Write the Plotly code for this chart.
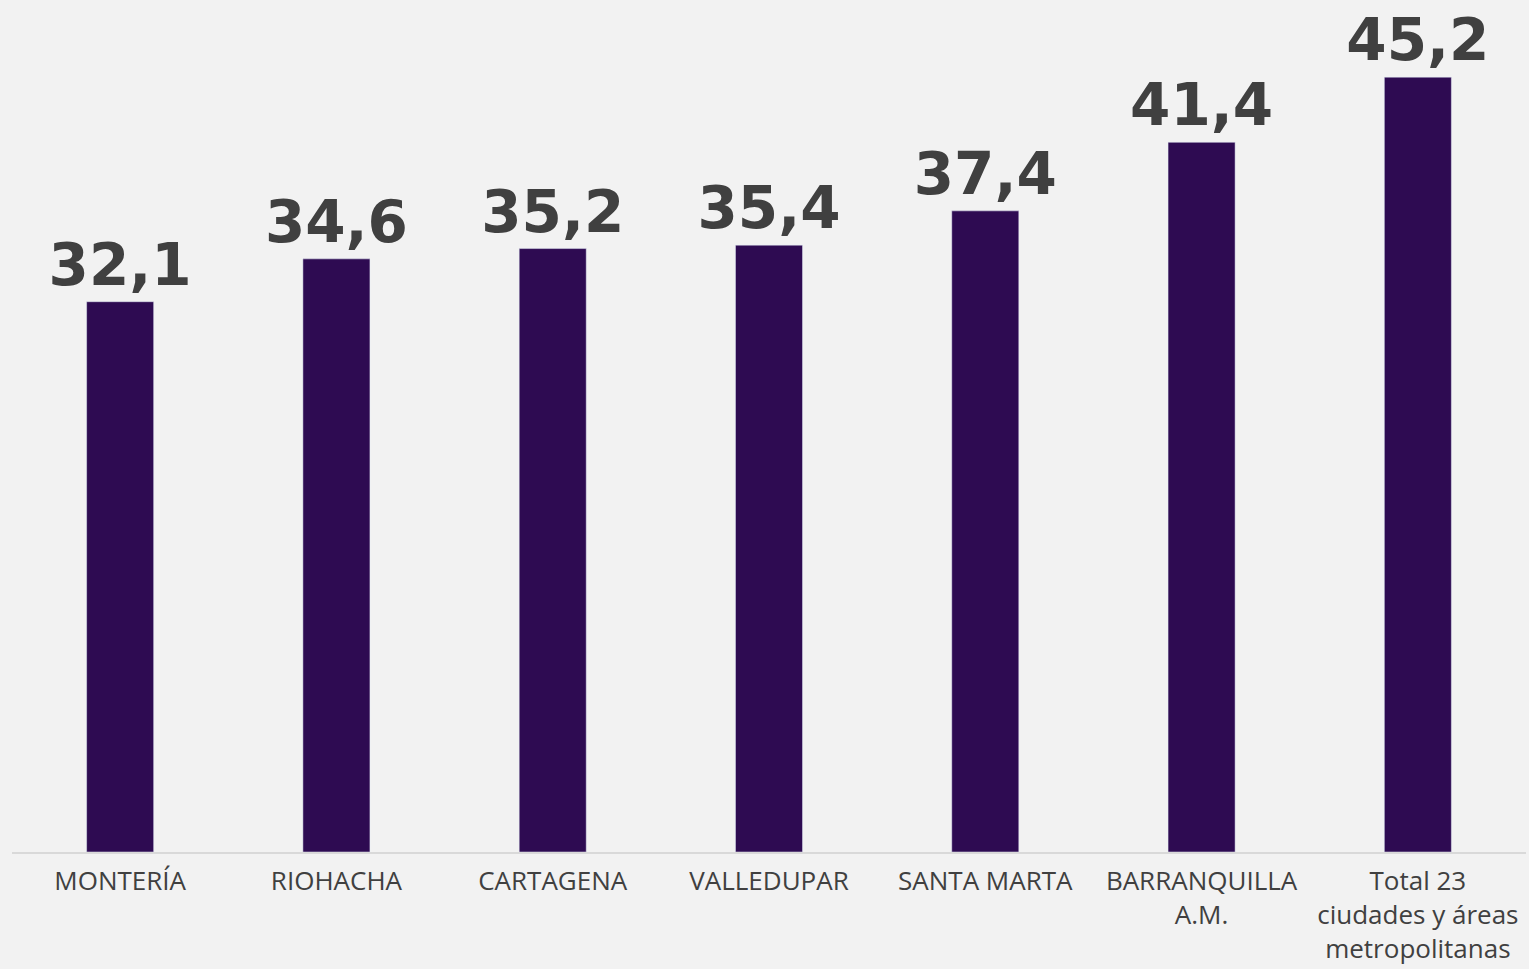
import plotly.graph_objects as go

ciudades = [
    "MONTERÍA",
    "RIOHACHA",
    "CARTAGENA",
    "VALLEDUPAR",
    "SANTA MARTA",
    "BARRANQUILLA<br>A.M.",
    "Total 23<br>ciudades y áreas<br>metropolitanas",
]
valores = [32.1, 34.6, 35.2, 35.4, 37.4, 41.4, 45.2]
etiquetas = [f"{v:.1f}".replace(".", ",") for v in valores]

fig = go.Figure(go.Bar(
    x=ciudades,
    y=valores,
    text=etiquetas,
    textposition="outside",
    constraintext="none",
    textfont=dict(family="DejaVu Sans", size=58, color="#404040", weight="bold"),
    marker=dict(color="#2e0b52"),
    cliponaxis=False,
))

fig.update_layout(
    width=1529, height=969,
    margin=dict(l=12, r=3, t=0, b=117),
    paper_bgcolor="#f2f2f2",
    plot_bgcolor="#f2f2f2",
    bargap=0.69,
    showlegend=False,
    font=dict(family="Open Sans", size=26, color="#404040"),
)
fig.update_xaxes(showline=True, linecolor="#d9d9d9", linewidth=2,
                 ticks="", ticklabelstandoff=5, automargin=False,
                 tickfont=dict(size=26, color="#404040"))
fig.update_yaxes(visible=False, range=[0, 49.7], showgrid=False,
                 zeroline=False, automargin=False)

# quitar el margen del body para que la figura ocupe toda la ventana
fig.write_html("out.html", config={"displayModeBar": False},
               post_script="document.body.style.margin='0';")
